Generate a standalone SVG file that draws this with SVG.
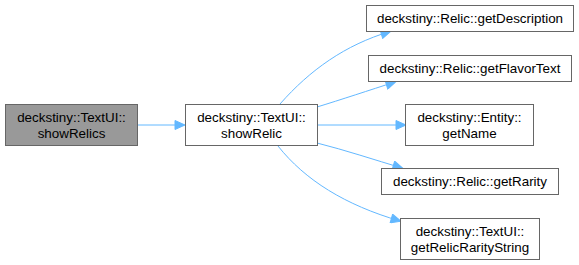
<svg xmlns="http://www.w3.org/2000/svg" width="579" height="265" viewBox="0 0 579 265">
<defs>
<style>
.node rect{fill:#fff;stroke:#666;stroke-width:1}
.node.cur rect{fill:#999}
.node text{font-family:"Liberation Sans",Arial,sans-serif;font-size:13.4px;fill:#000;text-anchor:middle}
.edge{fill:none;stroke:#63b8ff;stroke-width:1;marker-end:url(#ah)}
</style>
<marker id="ah" viewBox="0 0 10 10" refX="9" refY="5" markerWidth="12" markerHeight="10" markerUnits="userSpaceOnUse" orient="auto">
<path d="M0,0.5 L10,5 L0,9.5 z" fill="#63b8ff" stroke="#63b8ff"/>
</marker>
</defs>
<rect width="579" height="265" fill="#fff"/>
<g id="edges">
<path class="edge" d="M137.5,125 L184,125"/>
<path class="edge" d="M280,104 C310,70 345,45 390,31.5"/>
<path class="edge" d="M317,107 C340,100 370,90 395,82"/>
<path class="edge" d="M317,125 L405,125"/>
<path class="edge" d="M317,143 C345,150 375,160 402,168"/>
<path class="edge" d="M278,146 C305,180 345,205 400,221"/>
</g>
<g id="showRelics" class="node cur">
<rect x="5.5" y="104.5" width="132" height="41"/>
<text x="71.5" y="121.5">deckstiny::TextUI::</text>
<text x="71.5" y="137.5">showRelics</text>
</g>
<g id="showRelic" class="node">
<rect x="185.5" y="104.5" width="132" height="41"/>
<text x="251.5" y="121.5">deckstiny::TextUI::</text>
<text x="251.5" y="137.5">showRelic</text>
</g>
<g id="getDescription" class="node">
<rect x="366.5" y="5.5" width="207" height="26"/>
<text x="470" y="23">deckstiny::Relic::getDescription</text>
</g>
<g id="getFlavorText" class="node">
<rect x="368.5" y="55.5" width="203" height="26"/>
<text x="470" y="73">deckstiny::Relic::getFlavorText</text>
</g>
<g id="getName" class="node">
<rect x="405.5" y="104.5" width="128" height="41"/>
<text x="469.5" y="121.5">deckstiny::Entity::</text>
<text x="469.5" y="137.5">getName</text>
</g>
<g id="getRarity" class="node">
<rect x="381.5" y="168.5" width="177" height="26"/>
<text x="470" y="186">deckstiny::Relic::getRarity</text>
</g>
<g id="getRelicRarityString" class="node">
<rect x="400.5" y="218.5" width="139" height="41"/>
<text x="470" y="235.5">deckstiny::TextUI::</text>
<text x="470" y="251.5">getRelicRarityString</text>
</g>
</svg>
